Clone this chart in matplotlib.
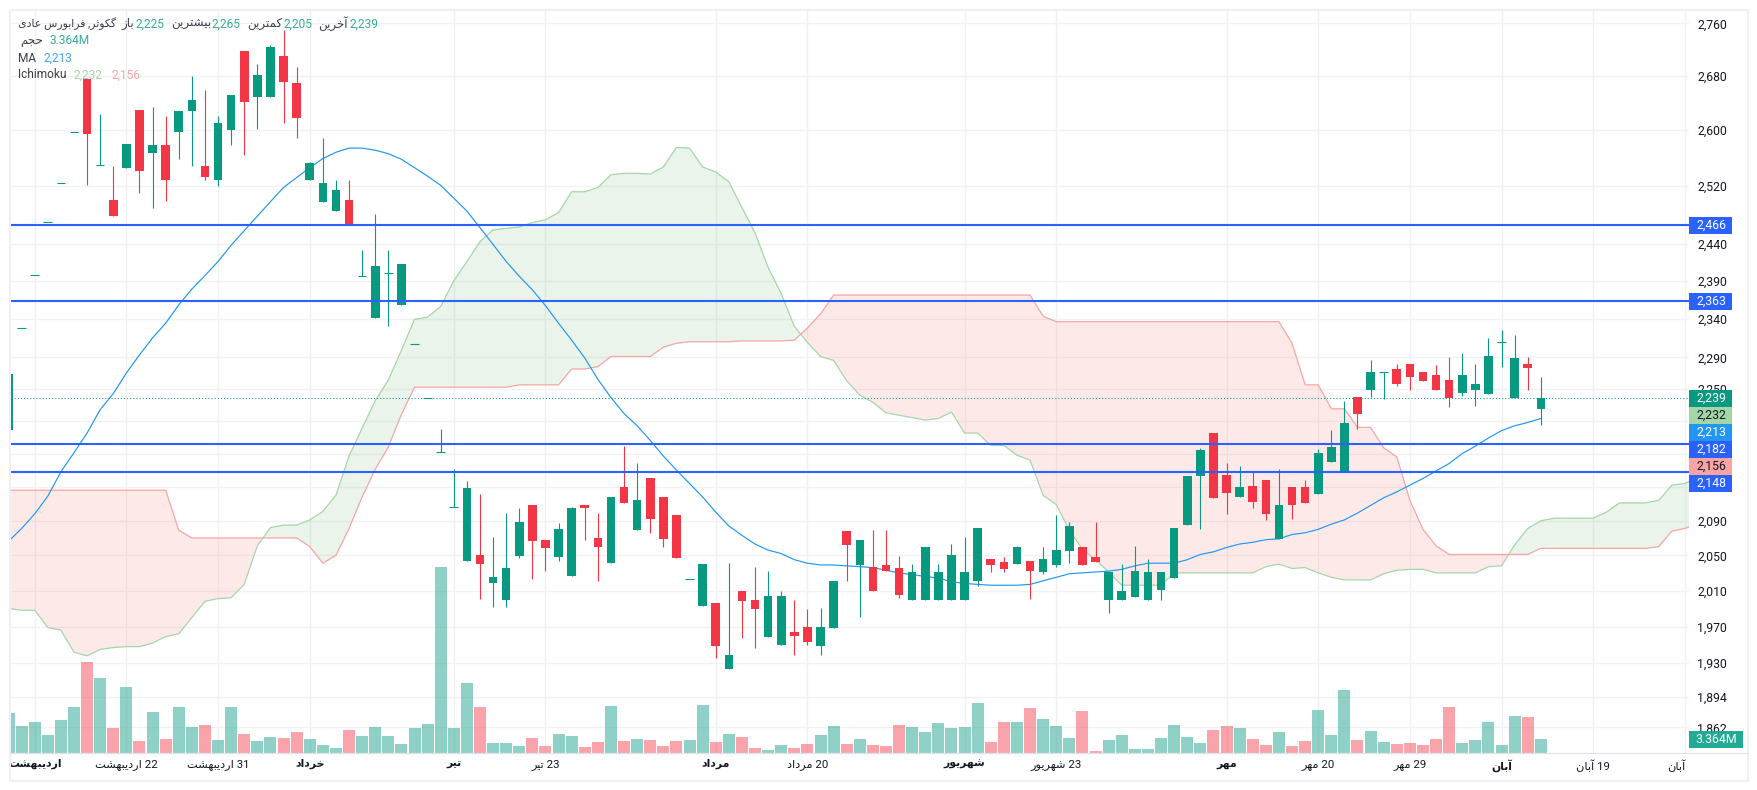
import numpy as np
import matplotlib
matplotlib.use("Agg")
import matplotlib.pyplot as plt
from matplotlib.patches import Rectangle
from matplotlib.ticker import NullLocator

plt.rcParams["font.family"] = ["Roboto", "DejaVu Sans"]

opens = [
    2199, 2328, 2398, 2470, 2524, 2598, 2676, 2550, 2500, 2545,
    2629, 2567, 2579, 2597, 2628, 2549, 2528, 2600, 2718, 2649,
    2649, 2710, 2670, 2529, 2497, 2485, 2500, 2396, 2341, 2400,
    2358, 2307, 2239, 2172, 2106, 2043, 2050, 2019, 1999, 2049,
    2108, 2068, 2048, 2026, 2108, 2070, 2041, 2130, 2079, 2140,
    2118, 2097, 2023, 1993, 1996, 1924, 2010, 1999, 1959, 1950,
    1964, 1969, 1949, 1968, 2078, 2039, 2037, 2039, 2036, 1999,
    2000, 1999, 2000, 1999, 2021, 2046, 2042, 2040, 2043, 2031,
    2039, 2055, 2060, 2048, 1999, 1999, 2003, 2000, 2011, 2024,
    2085, 2143, 2195, 2144, 2118, 2131, 2138, 2069, 2130, 2130,
    2122, 2160, 2149, 2240, 2248, 2271, 2275, 2281, 2271, 2267,
    2261, 2245, 2248, 2244, 2309, 2239, 2281, 2225,
]
highs = [
    2269, 2328, 2398, 2470, 2524, 2598, 2676, 2623, 2549, 2580,
    2629, 2634, 2620, 2628, 2680, 2659, 2620, 2652, 2718, 2698,
    2726, 2750, 2693, 2554, 2588, 2528, 2528, 2431, 2481, 2431,
    2412, 2307, 2239, 2200, 2151, 2137, 2122, 2071, 2099, 2105,
    2109, 2068, 2087, 2106, 2108, 2099, 2118, 2179, 2159, 2140,
    2118, 2097, 2023, 2040, 1996, 2041, 2010, 2037, 2032, 2009,
    2000, 1989, 1990, 2021, 2078, 2068, 2079, 2079, 2049, 2040,
    2060, 2040, 2063, 2071, 2082, 2046, 2048, 2061, 2043, 2060,
    2097, 2089, 2060, 2088, 2031, 2040, 2061, 2046, 2031, 2081,
    2143, 2177, 2195, 2158, 2155, 2148, 2138, 2151, 2130, 2138,
    2175, 2199, 2235, 2240, 2286, 2271, 2281, 2281, 2271, 2280,
    2290, 2295, 2281, 2315, 2325, 2319, 2290, 2265,
]
lows = [
    2199, 2328, 2398, 2470, 2524, 2598, 2521, 2550, 2478, 2545,
    2510, 2489, 2499, 2558, 2549, 2529, 2520, 2579, 2564, 2601,
    2649, 2610, 2588, 2529, 2497, 2485, 2466, 2396, 2341, 2330,
    2358, 2307, 2239, 2172, 2106, 2043, 2001, 1992, 1992, 2047,
    2023, 2032, 2044, 2026, 2068, 2021, 2041, 2111, 2079, 2076,
    2060, 2047, 2023, 1993, 1936, 1924, 1957, 1946, 1959, 1950,
    1939, 1950, 1939, 1968, 2021, 1981, 2010, 2032, 2002, 1999,
    2000, 1999, 2000, 1999, 2015, 2031, 2031, 2040, 2001, 2029,
    2037, 2041, 2039, 2042, 1985, 1999, 2003, 2000, 2000, 2024,
    2085, 2080, 2117, 2098, 2118, 2105, 2091, 2069, 2092, 2111,
    2122, 2160, 2149, 2200, 2240, 2237, 2253, 2249, 2260, 2248,
    2227, 2241, 2228, 2244, 2277, 2239, 2248, 2205,
]
closes = [
    2269, 2328, 2398, 2470, 2524, 2598, 2594, 2550, 2478, 2580,
    2541, 2579, 2528, 2628, 2644, 2533, 2610, 2652, 2641, 2682,
    2724, 2671, 2617, 2553, 2525, 2514, 2466, 2396, 2410, 2400,
    2412, 2307, 2239, 2172, 2106, 2129, 2040, 2025, 2035, 2088,
    2066, 2058, 2080, 2105, 2105, 2059, 2118, 2111, 2114, 2092,
    2069, 2047, 2023, 2040, 1949, 1939, 1998, 1989, 2004, 2004,
    1960, 1953, 1970, 2021, 2062, 2068, 2010, 2032, 2005, 2031,
    2060, 2031, 2050, 2031, 2081, 2039, 2034, 2060, 2032, 2046,
    2056, 2084, 2039, 2042, 2031, 2010, 2032, 2031, 2031, 2081,
    2143, 2174, 2117, 2123, 2130, 2112, 2098, 2109, 2108, 2111,
    2171, 2178, 2207, 2219, 2271, 2271, 2256, 2265, 2260, 2248,
    2239, 2267, 2256, 2291, 2309, 2289, 2276, 2239,
]
# volume in millions
volumes = [
    9.9, 6.6, 7.7, 4.4, 8.2, 11.4, 22.8, 18.8, 6.1, 16.5,
    2.9, 10.2, 3.4, 11.4, 6.4, 6.9, 3.1, 11.4, 4.6, 2.9,
    3.9, 3.6, 5.1, 3.4, 1.9, 1.1, 5.6, 4.1, 6.4, 4.1,
    2.1, 6.1, 7.1, 46.7, 6.1, 17.5, 11.4, 2.4, 2.4, 1.6,
    3.6, 1.6, 4.6, 4.1, 1.3, 2.6, 11.7, 2.9, 3.4, 3.1,
    1.6, 2.9, 3.1, 11.9, 2.6, 4.6, 3.9, 1.1, 0.6, 1.9,
    1.1, 2.1, 4.4, 6.6, 2.1, 3.4, 1.9, 1.6, 6.9, 6.4,
    5.1, 7.4, 6.1, 6.4, 12.4, 2.6, 7.7, 7.7, 11.2, 8.4,
    6.6, 3.6, 10.4, 0.3, 3.1, 4.4, 0.8, 0.8, 3.6, 6.9,
    3.9, 2.4, 5.6, 6.6, 6.1, 3.4, 1.9, 5.1, 1.6, 2.9,
    10.7, 4.4, 15.7, 3.1, 5.4, 2.6, 2.1, 2.4, 1.9, 3.4,
    11.4, 2.4, 3.1, 7.7, 1.9, 9.2, 8.9, 3.364,
]
ma_values = [
    2066, 2081, 2098, 2119, 2148, 2171, 2195, 2224, 2244, 2270,
    2293, 2315, 2334, 2358, 2379, 2397, 2416, 2438, 2458, 2478,
    2498, 2518, 2532, 2546, 2559, 2568, 2574, 2574, 2571, 2566,
    2558, 2546, 2534, 2521, 2503, 2485, 2462, 2439, 2416, 2396,
    2378, 2357, 2334, 2312, 2289, 2262, 2239, 2219, 2204, 2186,
    2167, 2150, 2134, 2118, 2100, 2084, 2073, 2063, 2056, 2052,
    2045, 2041, 2039, 2039, 2038, 2037, 2036, 2033, 2030, 2028,
    2026, 2024, 2020, 2018, 2017, 2016, 2016, 2016, 2017, 2021,
    2025, 2029, 2030, 2031, 2032, 2034, 2038, 2041, 2041, 2041,
    2045, 2051, 2054, 2059, 2063, 2065, 2068, 2069, 2074, 2076,
    2080, 2086, 2091, 2099, 2108, 2117, 2124, 2132, 2140, 2149,
    2158, 2170, 2179, 2189, 2198, 2204, 2208, 2213,
]
span_a = [
    1990, 1988, 1988, 1969, 1966, 1942, 1938, 1945, 1947, 1948,
    1948, 1952, 1959, 1962, 1980, 1998, 2001, 2002, 2017, 2061,
    2082, 2085, 2085, 2091, 2101, 2120, 2167, 2201, 2235, 2261,
    2299, 2339, 2342, 2356, 2390, 2416, 2443, 2459, 2461, 2463,
    2469, 2473, 2483, 2512, 2512, 2518, 2536, 2538, 2538, 2537,
    2547, 2575, 2574, 2547, 2540, 2526, 2490, 2455, 2408, 2373,
    2330, 2309, 2291, 2286, 2260, 2242, 2233, 2220, 2217, 2214,
    2211, 2213, 2221, 2195, 2195, 2180, 2180, 2168, 2162, 2120,
    2109, 2079, 2057, 2045, 2031, 2016, 2016, 2016, 2016, 2030,
    2030, 2030, 2030, 2030, 2030, 2030, 2037, 2040, 2035, 2036,
    2030, 2025, 2022, 2022, 2022, 2029, 2033, 2034, 2034, 2030,
    2030, 2030, 2030, 2037, 2038, 2062, 2081, 2090, 2093, 2093,
    2093, 2093, 2100, 2111, 2111, 2111, 2114, 2132, 2134, 2142,
]
span_b = [
    2126, 2126, 2126, 2126, 2126, 2126, 2126, 2126, 2126, 2126,
    2126, 2126, 2126, 2079, 2070, 2070, 2070, 2070, 2070, 2070,
    2070, 2070, 2070, 2060, 2041, 2050, 2081, 2118, 2151, 2178,
    2218, 2252, 2252, 2252, 2252, 2252, 2252, 2252, 2252, 2255,
    2255, 2255, 2255, 2275, 2275, 2278, 2291, 2291, 2291, 2291,
    2303, 2308, 2310, 2310, 2310, 2310, 2311, 2311, 2311, 2311,
    2312, 2328, 2346, 2371, 2371, 2371, 2371, 2371, 2371, 2371,
    2371, 2371, 2371, 2371, 2371, 2371, 2371, 2371, 2371, 2343,
    2336, 2336, 2336, 2336, 2336, 2336, 2336, 2336, 2336, 2336,
    2336, 2336, 2336, 2336, 2336, 2336, 2336, 2336, 2308, 2255,
    2255, 2225, 2225, 2202, 2202, 2177, 2166, 2114, 2080, 2061,
    2051, 2051, 2051, 2051, 2051, 2051, 2051, 2058, 2058, 2058,
    2058, 2058, 2058, 2058, 2058, 2058, 2060, 2078, 2081, 2087,
]
levels = [2466, 2363, 2182, 2148]
last_price = 2239
y_ticks = [2760, 2680, 2600, 2520, 2440, 2390, 2340, 2290, 2250, 2210, 2170,
           2130, 2090, 2050, 2010, 1970, 1930, 1894, 1862]
# these three sit completely behind the price tags
y_hidden = [2210, 2170, 2130]
x_ticks = [2, 9, 16, 23, 34, 41, 54, 61, 73, 80, 93, 100, 107, 114, 121, 128]
x_labels = ["اردیبهشت", "22 اردیبهشت", "31 اردیبهشت", "خرداد", "تیر", "23 تیر",
            "مرداد", "20 مرداد", "شهریور", "23 شهریور", "مهر", "20 مهر",
            "29 مهر", "آبان", "19 آبان", "آبان"]
bold_labels = ["اردیبهشت", "خرداد", "تیر", "مرداد", "شهریور", "مهر", "آبان"]

GREEN = "#089981"
RED = "#f23645"
LEVEL_BLUE = "#2962ff"
MA_BLUE = "#2196f3"
SPAN_GREEN = "#a5d6a7"
SPAN_RED = "#f7a5a5"
GRID = "#f1f1f4"
TEXT = "#131722"
LEGEND_GREEN = "#35ad98"

# matplotlib has no Arabic shaping, so map letters to presentation forms
FOUR_FORMS = {
    "ب": "\ufe8f\ufe90\ufe91\ufe92", "ت": "\ufe95\ufe96\ufe97\ufe98",
    "ث": "\ufe99\ufe9a\ufe9b\ufe9c", "ج": "\ufe9d\ufe9e\ufe9f\ufea0",
    "ح": "\ufea1\ufea2\ufea3\ufea4", "خ": "\ufea5\ufea6\ufea7\ufea8",
    "س": "\ufeb1\ufeb2\ufeb3\ufeb4", "ش": "\ufeb5\ufeb6\ufeb7\ufeb8",
    "ع": "\ufec9\ufeca\ufecb\ufecc", "ف": "\ufed1\ufed2\ufed3\ufed4",
    "ک": "\ufb8e\ufb8f\ufb90\ufb91", "گ": "\ufb92\ufb93\ufb94\ufb95",
    "م": "\ufee1\ufee2\ufee3\ufee4", "ن": "\ufee5\ufee6\ufee7\ufee8",
    "ه": "\ufee9\ufeea\ufeeb\ufeec", "ی": "\ufbfc\ufbfd\ufbfe\ufbff",
}
TWO_FORMS = {
    "ا": "\ufe8d\ufe8e", "آ": "\ufe81\ufe82", "د": "\ufea9\ufeaa",
    "ر": "\ufead\ufeae", "ز": "\ufeaf\ufeb0", "و": "\ufeed\ufeee",
}


def shape_word(word):
    out = []
    for i, ch in enumerate(word):
        prev_joins = i > 0 and word[i - 1] in FOUR_FORMS
        next_joins = i + 1 < len(word) and (word[i + 1] in FOUR_FORMS or word[i + 1] in TWO_FORMS)
        if ch in FOUR_FORMS:
            if prev_joins and next_joins:
                out.append(FOUR_FORMS[ch][3])
            elif prev_joins:
                out.append(FOUR_FORMS[ch][1])
            elif next_joins:
                out.append(FOUR_FORMS[ch][2])
            else:
                out.append(FOUR_FORMS[ch][0])
        elif ch in TWO_FORMS:
            out.append(TWO_FORMS[ch][1 if prev_joins else 0])
        else:
            out.append(ch)
    return "".join(reversed(out))


def fa(text):
    parts = []
    for word in reversed(text.split(" ")):
        has_letter = any(c in FOUR_FORMS or c in TWO_FORMS for c in word)
        parts.append(shape_word(word) if has_letter else word)
    return " ".join(parts)


W, H = 1757, 790
LEFT, RIGHT, TOP, BOTTOM = 10.5, 1689, 11, 752.5
BAR0_PX, BAR_STEP = 8.5, 13.097
VOL_PER_PX = 3.364 / 13.33

fig = plt.figure(figsize=(W / 100, H / 100), dpi=100, facecolor="white")
rect = [LEFT / W, 1 - BOTTOM / H, (RIGHT - LEFT) / W, (BOTTOM - TOP) / H]
ax = fig.add_axes(rect, zorder=1)
ax_vol = fig.add_axes(rect, zorder=2, sharex=ax)
ax_vol.patch.set_visible(False)

ax.set_yscale("log")
ax.set_xlim((LEFT - BAR0_PX) / BAR_STEP, (RIGHT - BAR0_PX) / BAR_STEP)
ax.set_ylim(2760 * np.exp(-(BOTTOM - 23.3) / 1789), 2760 * np.exp(-(TOP - 23.3) / 1789))
ax_vol.set_ylim(0, (BOTTOM - TOP) * VOL_PER_PX)

o = np.array(opens, float)
h = np.array(highs, float)
l = np.array(lows, float)
c = np.array(closes, float)
idx = np.arange(len(o))
up = c >= o
colors = np.where(up, GREEN, RED)

ax.set_axisbelow(True)
ax.grid(True, color=GRID, lw=1.0)
for s in ax.spines.values():
    s.set_visible(False)
ax_vol.axis("off")

ax.yaxis.tick_right()
ax.set_yticks(y_ticks, ["" if v in y_hidden else f"{v:,}" for v in y_ticks])
ax.yaxis.set_minor_locator(NullLocator())
ax.tick_params(axis="y", length=0, pad=5.8, labelsize=8.8, labelcolor=TEXT)
ax.set_xticks(x_ticks, [fa(t) for t in x_labels])
ax.tick_params(axis="x", length=0, pad=4.6, labelsize=8.2, labelcolor=TEXT)
for label, raw in zip(ax.get_xticklabels(), x_labels):
    if raw in bold_labels:
        label.set_fontweight("bold")
        label.set_fontsize(7.8)
ax.get_xticklabels()[-1].set_fontweight("normal")
ax.get_xticklabels()[-1].set_fontsize(8.2)
ax.get_xticklabels()[-1].set_ha("right")

# volume
ax_vol.bar(idx, volumes, width=12 / BAR_STEP, color=colors, alpha=0.45, linewidth=0)

# ichimoku cloud
span_x = np.arange(len(span_a))
a = np.array(span_a, float)
b = np.array(span_b, float)
ax.fill_between(span_x, a, b, where=a >= b, interpolate=True, color="#43a047", alpha=0.11, lw=0, zorder=2)
ax.fill_between(span_x, a, b, where=a <= b, interpolate=True, color="#f44336", alpha=0.11, lw=0, zorder=2)
ax.plot(span_x, a, color=SPAN_GREEN, lw=0.9, zorder=3)
ax.plot(span_x, b, color=SPAN_RED, lw=0.9, zorder=3)

ax.plot(idx, ma_values, color=MA_BLUE, lw=0.85, zorder=4)
ax.axhline(last_price, color=GREEN, lw=0.75, ls=(0, (1, 2)), zorder=4)

# candles
body_w = 8.6 / BAR_STEP
ax.vlines(idx, l, h, colors=colors, lw=0.8, zorder=5)
solid = c != o
ax.bar(idx[solid], np.abs(c - o)[solid], bottom=np.minimum(o, c)[solid], width=body_w,
       color=colors[solid], linewidth=0, zorder=6)
ax.hlines(c[~solid], idx[~solid] - body_w / 2, idx[~solid] + body_w / 2, colors=colors[~solid],
          lw=0.8, zorder=6)

for lv in levels:
    ax.axhline(lv, color=LEVEL_BLUE, lw=1.5, zorder=7)

# frame, price tags and legend sit in pixel coordinates above the chart
ui = fig.add_axes([0, 0, 1, 1], zorder=5)
ui.set_xlim(0, W)
ui.set_ylim(H, 0)
ui.axis("off")
ui.add_patch(Rectangle((9.5, 9.5), 1738, 771, fill=False, ec="#eff0f5", lw=1.5))
ui.plot([10, 1747], [752.8, 752.8], color="#e0e3eb", lw=0.9)

tag_values = ["2,466", "2,363", "2,239", "2,232", "2,213", "2,182", "2,156", "2,148"]
tag_tops = [217, 293, 390, 407, 424, 441, 458, 475]
tag_colors = [LEVEL_BLUE, LEVEL_BLUE, GREEN, SPAN_GREEN, MA_BLUE, LEVEL_BLUE, "#f9a3a3", LEVEL_BLUE]
tag_text = ["white", "white", "white", "#131722", "white", "white", "#131722", "white"]
for val, top, col, fg in zip(tag_values, tag_tops, tag_colors, tag_text):
    ui.add_patch(Rectangle((1689, top), 42.7, 16.7, fc=col, ec="none"))
    ui.text(1711.5, top + 8.5, val, color=fg, fontsize=8.8, ha="center", va="center")
ui.add_patch(Rectangle((1689, 730.7), 54, 17, fc="#22ab94", ec="none"))
ui.text(1716, 739.3, "3.364M", color="white", fontsize=8.8, ha="center", va="center")

LEG = 8.6
FA_LEG = 8.6
ui.text(116, 24, fa("گکوثر, فرابورس عادی"), color="#3a3e4a", fontsize=7.8, ha="right", va="center")
for name, end_x, val, val_x in [("باز", 134, "2,225", 135), ("بیشترین", 211, "2,265", 212),
                                ("کمترین", 282, "2,205", 283), ("آخرین", 348, "2,239", 349)]:
    ui.text(end_x, 24, fa(name), color="#3a3e4a", fontsize=FA_LEG, ha="right", va="center")
    ui.text(val_x, 24, val, color=LEGEND_GREEN, fontsize=LEG, ha="left", va="center")
ui.text(43, 41, fa("حجم"), color="#3a3e4a", fontsize=FA_LEG, ha="right", va="center")
ui.text(50, 41, "3.364M", color=LEGEND_GREEN, fontsize=LEG, ha="left", va="center")
ui.text(18, 58, "MA", color="#3a3e4a", fontsize=LEG, ha="left", va="center")
ui.text(44, 58, "2,213", color="#42a5f5", fontsize=LEG, ha="left", va="center")
ui.text(18, 75, "Ichimoku", color="#3a3e4a", fontsize=LEG, ha="left", va="center")
ui.text(74, 75, "2,232", color=SPAN_GREEN, fontsize=LEG, ha="left", va="center")
ui.text(111, 75, "2,156", color=SPAN_RED, fontsize=LEG, ha="left", va="center")

fig.savefig("out.png", dpi=100, facecolor="white")
